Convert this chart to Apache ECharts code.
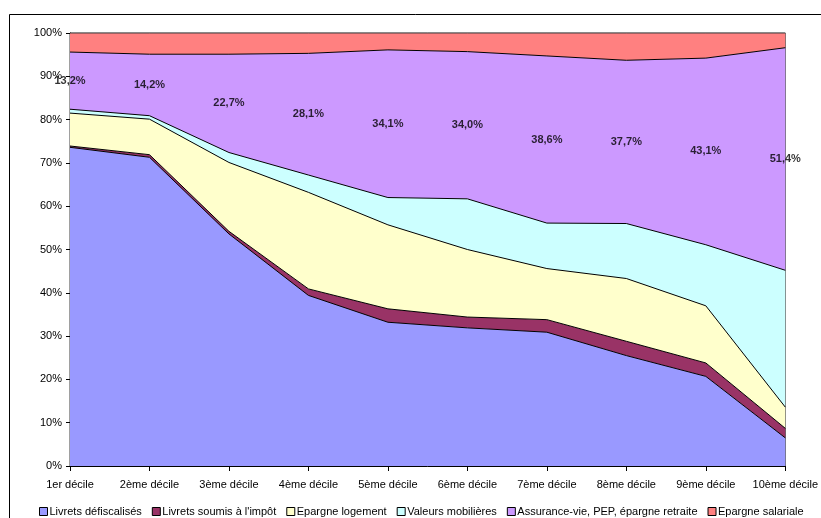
<!DOCTYPE html>
<html>
<head>
<meta charset="utf-8">
<script src="https://cdn.jsdelivr.net/npm/echarts@6/dist/echarts.min.js"></script>
<style>
html,body{margin:0;padding:0;background:#fff;}
#c{width:821px;height:518px;}
</style>
</head>
<body>
<div id="c"></div>
<script>
var categories = ['1er décile','2ème décile','3ème décile','4ème décile','5ème décile','6ème décile','7ème décile','8ème décile','9ème décile','10ème décile'];
var livretsDefisc = [73.6, 71.3, 53.6, 39.4, 33.2, 31.9, 30.9, 25.5, 20.7, 6.5];
var livretsSoumis = [0.3, 0.6, 0.6, 1.5, 3.1, 2.5, 2.9, 3.3, 3.1, 2.2];
var epargneLogement = [7.6, 8.2, 15.9, 22.3, 19.4, 15.6, 11.8, 14.5, 13.2, 4.9];
var valeursMobilieres = [0.9, 0.8, 2.3, 4.0, 6.3, 11.7, 10.5, 12.7, 14.1, 31.6];
var assuranceVie = [13.2, 14.2, 22.7, 28.1, 34.1, 34.0, 38.6, 37.7, 43.1, 51.4];
var epargneSalariale = [4.4, 4.9, 4.9, 4.7, 3.9, 4.3, 5.3, 6.3, 5.8, 3.4];
var seriesNames = ['Livrets défiscalisés','Livrets soumis à l\'impôt','Epargne logement','Valeurs mobilières','Assurance-vie, PEP, épargne retraite','Epargne salariale'];
var seriesColors = ['#9999FF','#993366','#FFFFCC','#CCFFFF','#CC99FF','#FF8080'];
var yTicks = [0,10,20,30,40,50,60,70,80,90,100];

var seriesData = [livretsDefisc, livretsSoumis, epargneLogement, valeursMobilieres, assuranceVie, epargneSalariale];

var labelMid = categories.map(function(c, i){
  return livretsDefisc[i] + livretsSoumis[i] + epargneLogement[i] + valeursMobilieres[i] + assuranceVie[i] / 2;
});

var series = seriesData.map(function(d, k){
  return {
    name: seriesNames[k],
    type: 'line',
    stack: 'total',
    data: d,
    showSymbol: false,
    symbol: 'none',
    color: seriesColors[k],
    itemStyle: {color: seriesColors[k]},
    lineStyle: {color: k === 5 ? '#404040' : '#000', width: 1},
    areaStyle: {color: seriesColors[k], opacity: 1},
    emphasis: {disabled: true},
    z: 2
  };
});

series.push({
  type: 'scatter',
  name: 'labels',
  data: labelMid,
  symbolSize: 0,
  silent: true,
  z: 5,
  label: {
    show: true,
    position: 'inside',
    fontFamily: 'Liberation Sans, Arial, sans-serif',
    fontSize: 11,
    fontWeight: 'bold',
    color: '#000',
    formatter: function(p){ return assuranceVie[p.dataIndex].toFixed(1).replace('.', ',') + '%'; }
  }
});

var chart = echarts.init(document.getElementById('c'), null, {renderer: 'canvas'});
chart.setOption({
  animation: false,
  backgroundColor: '#fff',
  textStyle: {fontFamily: 'Liberation Sans, Arial, sans-serif'},
  graphic: [{
    type: 'rect',
    shape: {x: 9.5, y: 14.5, width: 830, height: 530},
    style: {fill: null, stroke: '#000', lineWidth: 1},
    silent: true,
    z: 0
  }],
  grid: {
    left: 70, right: 35, top: 33, bottom: 52,
    show: true, borderColor: '#404040', borderWidth: 1, backgroundColor: 'transparent'
  },
  legend: {
    data: seriesNames,
    left: 34, top: 501,
    itemWidth: 8, itemHeight: 8, itemGap: 10,
    icon: 'rect',
    itemStyle: {borderColor: '#000', borderWidth: 1},
    textStyle: {fontSize: 11, color: '#000', fontFamily: 'Liberation Sans, Arial, sans-serif', padding: [0,0,0,-3]},
    selectedMode: false
  },
  xAxis: {
    type: 'category',
    data: categories,
    boundaryGap: false,
    axisLine: {lineStyle: {color: '#000', width: 1}},
    axisTick: {show: true, length: 5, lineStyle: {color: '#000'}},
    axisLabel: {color: '#000', fontSize: 11, margin: 13, interval: 0},
    splitLine: {show: false}
  },
  yAxis: {
    type: 'value',
    min: yTicks[0], max: yTicks[yTicks.length - 1], interval: 10,
    axisLine: {show: true, lineStyle: {color: '#000', width: 1}},
    axisTick: {show: true, length: 4, lineStyle: {color: '#000'}},
    axisLabel: {color: '#000', fontSize: 11, margin: 8, formatter: '{value}%'},
    splitLine: {show: false}
  },
  series: series
});
</script>
</body>
</html>
